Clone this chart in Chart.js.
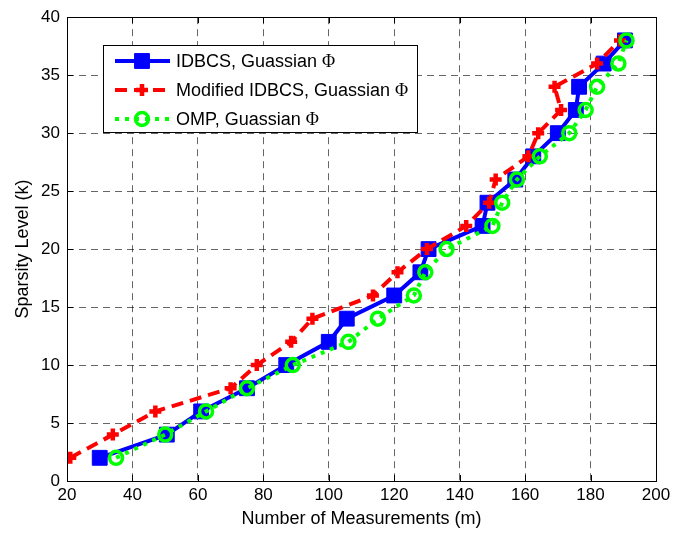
<!DOCTYPE html>
<html>
<head>
<meta charset="utf-8">
<script src="https://cdn.jsdelivr.net/npm/chart.js@4"></script>
<style>
  body { margin: 0; background: #fff; }
</style>
</head>
<body>
<canvas id="chart" width="680" height="533"></canvas>
<script>
// sparsity levels (y) and number of measurements (x) for each method
const sparsity = [2, 4, 6, 8, 10, 12, 14, 16, 18, 20, 22, 24, 26, 28, 30, 32, 34, 36, 38];
const idbcs    = [30, 50.5, 61, 75, 87, 100, 105.5, 120, 128, 130.5, 147, 148.5, 157, 162.5, 170, 175.5, 176.5, 184, 190.5];
const modified = [21, 34, 47, 70, 78, 88.5, 95, 113.5, 121, 130, 142, 149, 151, 161, 164, 171, 169, 182, 189];
const omp      = [35, 50, 62.5, 75, 89, 106, 115, 126, 129.5, 136, 150, 153, 157.5, 164.5, 173.5, 178.5, 182, 188.5, 191];

const legendLabels = ['IDBCS, Guassian Φ', 'Modified IDBCS, Guassian Φ', 'OMP, Guassian Φ'];
const xTicks = [20, 40, 60, 80, 100, 120, 140, 160, 180, 200];
const yTicks = [0, 5, 10, 15, 20, 25, 30, 35, 40];

const toPoints = (xs) => xs.map((x, i) => ({ x: x, y: sparsity[i] }));

const datasets = [
  {
    label: legendLabels[0],
    data: toPoints(idbcs),
    showLine: true,
    borderColor: '#0000ff',
    borderWidth: 4,
    pointStyle: 'rect',
    pointRadius: 10.5,
    pointBackgroundColor: '#0000ff',
    pointBorderColor: '#0000ff',
    pointBorderWidth: 1,
    order: 3
  },
  {
    label: legendLabels[1],
    data: toPoints(modified),
    showLine: true,
    borderColor: '#ff0000',
    borderWidth: 4,
    borderDash: [12, 7],
    pointStyle: 'cross',
    pointRadius: 6,
    pointBorderColor: '#ff0000',
    pointBackgroundColor: '#ff0000',
    pointBorderWidth: 4.5,
    order: 2
  },
  {
    label: legendLabels[2],
    data: toPoints(omp),
    showLine: true,
    borderColor: '#00ff00',
    borderWidth: 4,
    borderDash: [4, 6],
    pointStyle: 'circle',
    pointRadius: 6.5,
    pointBorderColor: '#00ff00',
    pointBackgroundColor: 'rgba(0,0,0,0)',
    pointBorderWidth: 3.5,
    order: 1
  }
];

// box, inward ticks and a matlab-style legend inside the axes
const frame = {
  id: 'frame',
  afterDraw(chart) {
    const ctx = chart.ctx;
    const a = chart.chartArea;
    const xs = chart.scales.x, ys = chart.scales.y;
    ctx.save();
    ctx.strokeStyle = '#000';
    ctx.lineWidth = 1;
    ctx.beginPath();
    xTicks.forEach(v => {
      const px = Math.round(xs.getPixelForValue(v)) + 0.5;
      ctx.moveTo(px, a.bottom); ctx.lineTo(px, a.bottom - 6);
      ctx.moveTo(px, a.top); ctx.lineTo(px, a.top + 6);
    });
    yTicks.forEach(v => {
      const py = Math.round(ys.getPixelForValue(v)) + 0.5;
      ctx.moveTo(a.left, py); ctx.lineTo(a.left + 6, py);
      ctx.moveTo(a.right, py); ctx.lineTo(a.right - 6, py);
    });
    ctx.stroke();
    ctx.strokeRect(Math.round(a.left) + 0.5, Math.round(a.top) + 0.5,
                   Math.round(a.right - a.left), Math.round(a.bottom - a.top));

    // legend
    const bx = 103.5, by = 45.5, bw = 314, bh = 87;
    ctx.fillStyle = '#fff';
    ctx.fillRect(bx, by, bw, bh);
    ctx.strokeRect(bx, by, bw, bh);
    const rows = [61, 90, 119];
    chart.data.datasets.forEach((ds, i) => {
      const y = rows[i];
      ctx.save();
      ctx.strokeStyle = ds.borderColor;
      ctx.lineWidth = ds.borderWidth;
      ctx.setLineDash(ds.borderDash || []);
      ctx.beginPath();
      ctx.moveTo(115, y); ctx.lineTo(170, y);
      ctx.stroke();
      ctx.setLineDash([]);
      ctx.fillStyle = ds.pointBackgroundColor;
      ctx.strokeStyle = ds.pointBorderColor;
      ctx.lineWidth = ds.pointBorderWidth;
      Chart.helpers.drawPoint(ctx, {
        pointStyle: ds.pointStyle, radius: ds.pointRadius,
        borderWidth: ds.pointBorderWidth, rotation: 0
      }, 142, y);
      ctx.restore();

      const parts = ds.label.split('Φ');
      ctx.fillStyle = '#000';
      ctx.textBaseline = 'middle';
      ctx.font = '18px "Liberation Sans", Arial, sans-serif';
      ctx.fillText(parts[0], 176, y + 1);
      const w = ctx.measureText(parts[0]).width;
      ctx.font = '18px "Liberation Serif", "Times New Roman", serif';
      ctx.fillText('Φ', 176 + w, y + 1);
    });
    ctx.restore();
  }
};

const gridStyle = { color: 'rgba(0,0,0,0.6)', lineWidth: 1, drawTicks: false };

new Chart(document.getElementById('chart'), {
  type: 'scatter',
  data: { datasets: datasets },
  options: {
    responsive: false,
    animation: false,
    layout: { padding: { top: 12, right: 24, left: 0, bottom: 0 } },
    plugins: { legend: { display: false }, tooltip: { enabled: false } },
    scales: {
      x: {
        type: 'linear', min: 20, max: 200,
        afterFit: (s) => { s.height = 52; },
        afterBuildTicks: (s) => { s.ticks = xTicks.map(v => ({ value: v })); },
        grid: gridStyle,
        border: { display: false, dash: [7, 5] },
        ticks: { padding: 4, color: '#000', font: { family: 'Liberation Sans', size: 17 } },
        title: { display: true, text: 'Number of Measurements (m)', color: '#000',
                 padding: { top: 0, bottom: 3 }, font: { family: 'Liberation Sans', size: 18 } }
      },
      y: {
        type: 'linear', min: 0, max: 40,
        afterFit: (s) => { s.width = 67; },
        afterBuildTicks: (s) => { s.ticks = yTicks.map(v => ({ value: v })); },
        grid: gridStyle,
        border: { display: false, dash: [7, 5] },
        ticks: { padding: 7, color: '#000', font: { family: 'Liberation Sans', size: 17 } },
        title: { display: true, text: 'Sparsity Level (k)', color: '#000',
                 padding: { top: 12, bottom: 0 }, font: { family: 'Liberation Sans', size: 18 } }
      }
    }
  },
  plugins: [frame]
});
</script>
</body>
</html>
